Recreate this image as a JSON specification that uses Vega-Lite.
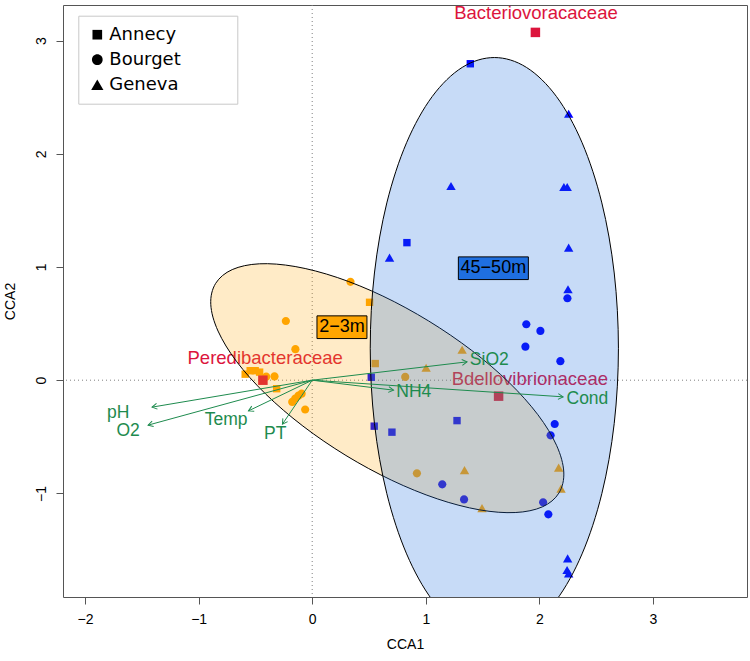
{
  "$schema": "https://vega.github.io/schema/vega-lite/v6.json",
  "width": 684,
  "height": 592,
  "autosize": {"type": "none"},
  "padding": {"left": 63, "top": 5, "right": 3, "bottom": 64},
  "background": "white",
  "config": {
    "view": {"stroke": "#555555", "strokeWidth": 1},
    "font": "Liberation Sans",
    "axis": {"domain": false, "grid": false, "ticks": true, "tickSize": 7, "tickColor": "#555555", "labelFont": "Liberation Sans", "labelFontSize": 14, "labelColor": "#000000", "titleFont": "Liberation Sans", "titleFontSize": 14, "titleFontWeight": "normal", "titleColor": "#000000"},
    "legend": {"padding": 10, "strokeColor": "#c8c8c8", "fillColor": "#ffffff", "labelFont": "DejaVu Sans", "labelFontSize": 18, "labelColor": "#000000", "labelOffset": 3, "symbolOffset": 0, "symbolSize": 170, "symbolFillColor": "#000000", "symbolBaseFillColor": "#000000", "symbolStrokeColor": "#000000", "symbolBaseStrokeColor": "#000000", "symbolStrokeWidth": 0, "rowPadding": 7}
  },
  "datasets": {
    "samples": [
      {"site": "Annecy", "depth": "45-50m", "x": 1.392, "y": 2.795},
      {"site": "Annecy", "depth": "45-50m", "x": 0.834, "y": 1.215},
      {"site": "Annecy", "depth": "45-50m", "x": 0.520, "y": 0.026},
      {"site": "Annecy", "depth": "45-50m", "x": 0.546, "y": -0.406},
      {"site": "Annecy", "depth": "45-50m", "x": 0.702, "y": -0.459},
      {"site": "Annecy", "depth": "45-50m", "x": 1.275, "y": -0.357},
      {"site": "Bourget", "depth": "45-50m", "x": 1.885, "y": 0.494},
      {"site": "Bourget", "depth": "45-50m", "x": 2.009, "y": 0.435},
      {"site": "Bourget", "depth": "45-50m", "x": 1.877, "y": 0.296},
      {"site": "Bourget", "depth": "45-50m", "x": 2.185, "y": 0.168},
      {"site": "Bourget", "depth": "45-50m", "x": 2.247, "y": 0.724},
      {"site": "Bourget", "depth": "45-50m", "x": 2.135, "y": -0.387},
      {"site": "Bourget", "depth": "45-50m", "x": 2.099, "y": -0.487},
      {"site": "Bourget", "depth": "45-50m", "x": 1.145, "y": -0.920},
      {"site": "Bourget", "depth": "45-50m", "x": 1.337, "y": -1.053},
      {"site": "Bourget", "depth": "45-50m", "x": 2.033, "y": -1.079},
      {"site": "Bourget", "depth": "45-50m", "x": 2.079, "y": -1.185},
      {"site": "Geneva", "depth": "45-50m", "x": 2.258, "y": 2.354},
      {"site": "Geneva", "depth": "45-50m", "x": 1.222, "y": 1.715},
      {"site": "Geneva", "depth": "45-50m", "x": 2.216, "y": 1.706},
      {"site": "Geneva", "depth": "45-50m", "x": 2.245, "y": 1.706},
      {"site": "Geneva", "depth": "45-50m", "x": 0.681, "y": 1.083},
      {"site": "Geneva", "depth": "45-50m", "x": 2.258, "y": 1.171},
      {"site": "Geneva", "depth": "45-50m", "x": 2.252, "y": 0.803},
      {"site": "Geneva", "depth": "45-50m", "x": 2.249, "y": -1.574},
      {"site": "Geneva", "depth": "45-50m", "x": 2.244, "y": -1.677},
      {"site": "Geneva", "depth": "45-50m", "x": 2.258, "y": -1.706},
      {"site": "Annecy", "depth": "2-3m", "x": 0.505, "y": 0.688},
      {"site": "Annecy", "depth": "2-3m", "x": 0.555, "y": 0.147},
      {"site": "Annecy", "depth": "2-3m", "x": -0.313, "y": -0.075},
      {"site": "Annecy", "depth": "2-3m", "x": -0.590, "y": 0.053},
      {"site": "Annecy", "depth": "2-3m", "x": -0.546, "y": 0.084},
      {"site": "Annecy", "depth": "2-3m", "x": -0.502, "y": 0.084},
      {"site": "Annecy", "depth": "2-3m", "x": -0.463, "y": 0.071},
      {"site": "Bourget", "depth": "2-3m", "x": 0.337, "y": 0.869},
      {"site": "Bourget", "depth": "2-3m", "x": -0.232, "y": 0.523},
      {"site": "Bourget", "depth": "2-3m", "x": -0.148, "y": 0.274},
      {"site": "Bourget", "depth": "2-3m", "x": 0.819, "y": 0.029},
      {"site": "Bourget", "depth": "2-3m", "x": 0.922, "y": -0.823},
      {"site": "Bourget", "depth": "2-3m", "x": -0.405, "y": 0.031},
      {"site": "Bourget", "depth": "2-3m", "x": -0.332, "y": 0.033},
      {"site": "Bourget", "depth": "2-3m", "x": -0.062, "y": -0.259},
      {"site": "Bourget", "depth": "2-3m", "x": -0.176, "y": -0.192},
      {"site": "Bourget", "depth": "2-3m", "x": -0.150, "y": -0.162},
      {"site": "Bourget", "depth": "2-3m", "x": -0.121, "y": -0.137},
      {"site": "Bourget", "depth": "2-3m", "x": -0.093, "y": -0.119},
      {"site": "Geneva", "depth": "2-3m", "x": 1.320, "y": 0.269},
      {"site": "Geneva", "depth": "2-3m", "x": 1.003, "y": 0.110},
      {"site": "Geneva", "depth": "2-3m", "x": 1.341, "y": -0.794},
      {"site": "Geneva", "depth": "2-3m", "x": 2.170, "y": -0.772},
      {"site": "Geneva", "depth": "2-3m", "x": 2.191, "y": -0.958},
      {"site": "Geneva", "depth": "2-3m", "x": 1.495, "y": -1.130}
    ],
    "species": [
      {"name": "Bacteriovoracaceae", "x": 1.965, "y": 3.072, "lx": 1.970, "ly": 3.239},
      {"name": "Peredibacteraceae", "x": -0.434, "y": 0.0, "lx": -0.414, "ly": 0.194},
      {"name": "Bdellovibrionaceae", "x": 1.641, "y": -0.141, "lx": 1.916, "ly": 0.012}
    ],
    "env": [
      {"name": "SiO2", "x": 1.363, "y": 0.162, "lx": 1.559, "ly": 0.177},
      {"name": "NH4", "x": 0.716, "y": -0.088, "lx": 0.894, "ly": -0.101},
      {"name": "Cond", "x": 2.209, "y": -0.147, "lx": 2.423, "ly": -0.168},
      {"name": "Temp", "x": -0.561, "y": -0.271, "lx": -0.758, "ly": -0.353},
      {"name": "PT", "x": -0.262, "y": -0.388, "lx": -0.326, "ly": -0.477},
      {"name": "pH", "x": -1.410, "y": -0.238, "lx": -1.709, "ly": -0.291},
      {"name": "O2", "x": -1.445, "y": -0.397, "lx": -1.621, "ly": -0.450}
    ],
    "groups": [
      {"name": "2−3m", "x": 0.262, "y": 0.468},
      {"name": "45−50m", "x": 1.595, "y": 0.989}
    ],
    "ellipseShallow": [
      {"x": 2.172, "y": -0.997}, {"x": 2.215, "y": -0.811}, {"x": 2.151, "y": -0.575}, {"x": 1.987, "y": -0.305},
      {"x": 1.732, "y": -0.019}, {"x": 1.404, "y": 0.263}, {"x": 1.025, "y": 0.523}, {"x": 0.622, "y": 0.743},
      {"x": 0.221, "y": 0.907}, {"x": -0.150, "y": 1.004}, {"x": -0.465, "y": 1.028}, {"x": -0.704, "y": 0.977},
      {"x": -0.850, "y": 0.855}, {"x": -0.893, "y": 0.670}, {"x": -0.829, "y": 0.434}, {"x": -0.665, "y": 0.164},
      {"x": -0.410, "y": -0.122}, {"x": -0.082, "y": -0.405}, {"x": 0.297, "y": -0.665}, {"x": 0.700, "y": -0.884},
      {"x": 1.101, "y": -1.048}, {"x": 1.472, "y": -1.145}, {"x": 1.787, "y": -1.169}, {"x": 2.026, "y": -1.119}
    ],
    "ellipseDeep": [
      {"x": 2.696, "y": 0.282}, {"x": 2.659, "y": 0.947}, {"x": 2.550, "y": 1.566}, {"x": 2.376, "y": 2.098},
      {"x": 2.150, "y": 2.506}, {"x": 1.886, "y": 2.763}, {"x": 1.604, "y": 2.850}, {"x": 1.321, "y": 2.763},
      {"x": 1.057, "y": 2.506}, {"x": 0.831, "y": 2.098}, {"x": 0.657, "y": 1.566}, {"x": 0.548, "y": 0.947},
      {"x": 0.511, "y": 0.282}, {"x": 0.548, "y": -0.382}, {"x": 0.657, "y": -1.002}, {"x": 0.831, "y": -1.534},
      {"x": 1.057, "y": -1.942}, {"x": 1.321, "y": -2.198}, {"x": 1.604, "y": -2.286}, {"x": 1.886, "y": -2.198},
      {"x": 2.150, "y": -1.942}, {"x": 2.376, "y": -1.534}, {"x": 2.550, "y": -1.002}, {"x": 2.659, "y": -0.382}
    ]
  },
  "layer": [
    {
      "data": {"values": [{"v": 0}]},
      "mark": {"type": "rule", "color": "#808080", "strokeDash": [1, 3], "strokeWidth": 1},
      "encoding": {"x": {"field": "v", "type": "quantitative", "title": "CCA1", "scale": {"domain": [-2.194, 3.828], "nice": false, "zero": false}}}
    },
    {
      "data": {"values": [{"v": 0}]},
      "mark": {"type": "rule", "color": "#808080", "strokeDash": [1, 3], "strokeWidth": 1},
      "encoding": {"y": {"field": "v", "type": "quantitative", "title": "CCA2", "scale": {"domain": [-1.915, 3.314], "nice": false, "zero": false}}}
    },
    {
      "data": {"name": "samples"},
      "mark": {"type": "point", "filled": true, "opacity": 1, "strokeWidth": 0, "size": 100},
      "encoding": {
        "x": {"field": "x", "type": "quantitative", "scale": {"domain": [-2.194, 3.828], "nice": false, "zero": false}, "axis": {"values": [-2, -1, 0, 1, 2, 3], "format": "d", "title": "CCA1", "labelPadding": 8, "titlePadding": 11}},
        "y": {"field": "y", "type": "quantitative", "scale": {"domain": [-1.915, 3.314], "nice": false, "zero": false}, "axis": {"values": [-1, 0, 1, 2, 3], "format": "d", "title": "CCA2", "labelAngle": -90, "labelAlign": "center", "labelBaseline": "bottom", "labelPadding": 8, "titlePadding": 17}},
        "shape": {"field": "site", "type": "nominal", "scale": {"domain": ["Annecy", "Bourget", "Geneva"], "range": ["M-0.74,-0.74L0.74,-0.74L0.74,0.74L-0.74,0.74Z", "M0.82,0A0.82,0.82 0 1,1 -0.82,0A0.82,0.82 0 1,1 0.82,0Z", "M0,-0.81L0.94,0.81L-0.94,0.81Z"]}, "legend": {"title": null, "orient": "none", "legendX": 15.3, "legendY": 10.7, "labelExpr": "datum.label + '\u00a0\u00a0\u00a0\u00a0\u00a0\u00a0\u00a0\u00a0\u200b'"}},
        "color": {"field": "depth", "type": "nominal", "scale": {"domain": ["2-3m", "45-50m"], "range": ["#FFA500", "#0000FF"]}, "legend": null}
      }
    },
    {
      "data": {"name": "species"},
      "mark": {"type": "point", "shape": "square", "filled": true, "opacity": 1, "size": 90, "color": "#DC143C", "strokeWidth": 0},
      "encoding": {
        "x": {"field": "x", "type": "quantitative", "title": "CCA1"},
        "y": {"field": "y", "type": "quantitative", "title": "CCA2"}
      }
    },
    {
      "data": {"name": "species"},
      "mark": {"type": "text", "font": "Liberation Sans", "fontSize": 18.5, "color": "#DC143C", "align": "center", "baseline": "middle"},
      "encoding": {
        "x": {"field": "lx", "type": "quantitative", "title": "CCA1"},
        "y": {"field": "ly", "type": "quantitative", "title": "CCA2"},
        "text": {"field": "name", "type": "nominal"}
      }
    },
    {
      "data": {"name": "ellipseShallow"},
      "mark": {"type": "line", "interpolate": "cardinal-closed", "fill": "#FFA500", "fillOpacity": 0.22, "stroke": "#000000", "strokeWidth": 1, "clip": true},
      "encoding": {
        "x": {"field": "x", "type": "quantitative", "title": "CCA1"},
        "y": {"field": "y", "type": "quantitative", "title": "CCA2"},
        "order": {"value": null}
      }
    },
    {
      "data": {"name": "ellipseDeep"},
      "mark": {"type": "line", "interpolate": "cardinal-closed", "fill": "#1F6FE0", "fillOpacity": 0.25, "stroke": "#000000", "strokeWidth": 1, "clip": true},
      "encoding": {
        "x": {"field": "x", "type": "quantitative", "title": "CCA1"},
        "y": {"field": "y", "type": "quantitative", "title": "CCA2"},
        "order": {"value": null}
      }
    },
    {
      "data": {"name": "env"},
      "mark": {"type": "rule", "color": "#1E8B4E", "strokeWidth": 1},
      "encoding": {
        "x": {"field": "x", "type": "quantitative", "title": "CCA1"},
        "y": {"field": "y", "type": "quantitative", "title": "CCA2"},
        "x2": {"datum": 0},
        "y2": {"datum": 0}
      }
    },
    {
      "data": {"name": "env"},
      "transform": [{"calculate": "atan2(-datum.y, datum.x) * 180 / PI", "as": "dir"}],
      "mark": {"type": "point", "shape": "M-1,-0.577L0,0L-1,0.577", "filled": false, "opacity": 1, "size": 100, "stroke": "#1E8B4E", "strokeWidth": 1},
      "encoding": {
        "x": {"field": "x", "type": "quantitative", "title": "CCA1"},
        "y": {"field": "y", "type": "quantitative", "title": "CCA2"},
        "angle": {"field": "dir", "type": "quantitative", "scale": null}
      }
    },
    {
      "data": {"name": "env"},
      "mark": {"type": "text", "font": "Liberation Sans", "fontSize": 17.5, "color": "#1E8B4E", "align": "center", "baseline": "middle"},
      "encoding": {
        "x": {"field": "lx", "type": "quantitative", "title": "CCA1"},
        "y": {"field": "ly", "type": "quantitative", "title": "CCA2"},
        "text": {"field": "name", "type": "nominal"}
      }
    },
    {
      "data": {"name": "groups"},
      "transform": [{"filter": "datum.name == '2−3m'"}],
      "mark": {"type": "point", "shape": "M-0.714,-0.324L0.714,-0.324L0.714,0.324L-0.714,0.324Z", "filled": true, "opacity": 1, "size": 4900, "fill": "#FFA500", "stroke": "#000000", "strokeWidth": 1},
      "encoding": {
        "x": {"field": "x", "type": "quantitative", "title": "CCA1"},
        "y": {"field": "y", "type": "quantitative", "title": "CCA2"}
      }
    },
    {
      "data": {"name": "groups"},
      "transform": [{"filter": "datum.name == '45−50m'"}],
      "mark": {"type": "point", "shape": "M-1,-0.324L1,-0.324L1,0.324L-1,0.324Z", "filled": true, "opacity": 1, "size": 4900, "fill": "#1F6FE0", "stroke": "#000000", "strokeWidth": 1},
      "encoding": {
        "x": {"field": "x", "type": "quantitative", "title": "CCA1"},
        "y": {"field": "y", "type": "quantitative", "title": "CCA2"}
      }
    },
    {
      "data": {"name": "groups"},
      "mark": {"type": "text", "font": "Liberation Sans", "fontSize": 18, "color": "#000000", "align": "center", "baseline": "middle"},
      "encoding": {
        "x": {"field": "x", "type": "quantitative", "title": "CCA1"},
        "y": {"field": "y", "type": "quantitative", "title": "CCA2"},
        "text": {"field": "name", "type": "nominal"}
      }
    }
  ]
}
